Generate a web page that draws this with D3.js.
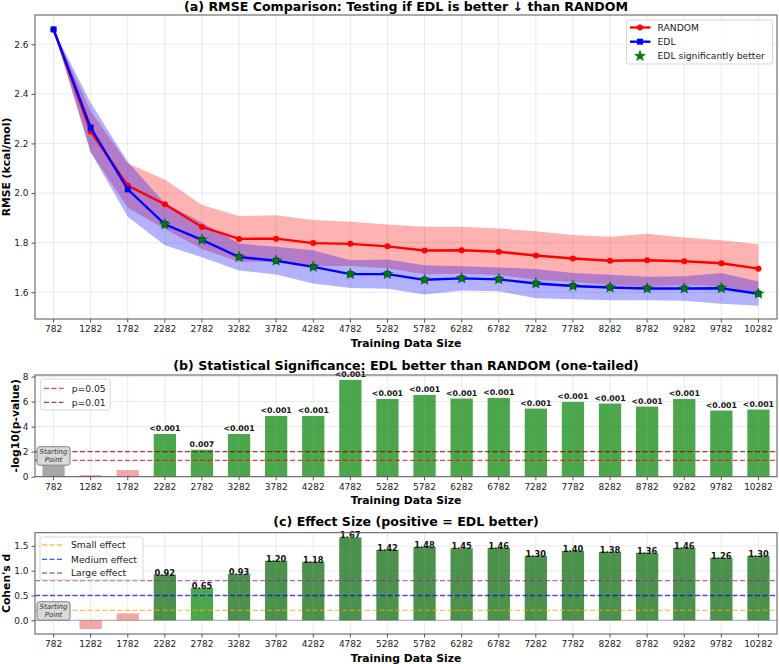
<!DOCTYPE html>
<html><head><meta charset="utf-8">
<script src="https://cdn.jsdelivr.net/npm/d3@7"></script>
<style>body{margin:0;background:#fff} svg text{font-family:"DejaVu Sans",sans-serif}</style>
</head><body><svg id="chart" width="779" height="664"></svg>
<script>
// ---------------- DATA ----------------
const sizes = [782,1282,1782,2282,2782,3282,3782,4282,4782,5282,5782,6282,6782,7282,7782,8282,8782,9282,9782,10282];
const randomMean = [2.66,2.248,2.030,1.955,1.863,1.815,1.816,1.798,1.795,1.785,1.768,1.769,1.763,1.748,1.736,1.727,1.729,1.725,1.717,1.695];
const randomStd  = [0.0,0.083,0.089,0.100,0.089,0.092,0.094,0.093,0.089,0.088,0.096,0.095,0.094,0.098,0.095,0.097,0.107,0.096,0.093,0.098];
const edlMean    = [2.66,2.264,2.015,1.874,1.811,1.742,1.727,1.702,1.673,1.673,1.650,1.656,1.652,1.635,1.625,1.619,1.615,1.615,1.616,1.594];
const edlStd     = [0.0,0.100,0.111,0.085,0.070,0.054,0.056,0.067,0.056,0.059,0.059,0.049,0.048,0.059,0.053,0.051,0.047,0.049,0.062,0.049];
const edlSignificant = [false,false,false,true,true,true,true,true,true,true,true,true,true,true,true,true,true,true,true,true];
const negLog10P  = [0.9,0.13,0.53,3.41,2.15,3.41,4.85,4.85,7.73,6.21,6.53,6.24,6.29,5.44,5.97,5.84,5.60,6.21,5.28,5.36];
const pLabels    = ["","","","<0.001","0.007","<0.001","<0.001","<0.001","<0.001","<0.001","<0.001","<0.001","<0.001","<0.001","<0.001","<0.001","<0.001","<0.001","<0.001","<0.001"];
const cohensD    = [0.0,-0.175,0.14,0.92,0.65,0.93,1.20,1.18,1.67,1.42,1.48,1.45,1.46,1.30,1.40,1.38,1.36,1.46,1.26,1.30];
const dLabels    = ["","","","0.92","0.65","0.93","1.20","1.18","1.67","1.42","1.48","1.45","1.46","1.30","1.40","1.38","1.36","1.46","1.26","1.30"];
const rmseTicks  = [1.6,1.8,2.0,2.2,2.4,2.6];
const pTicks     = [0,2,4,6,8];
const dTicks     = [0.0,0.5,1.0,1.5];
const pThresholds = [{label:"p=0.05", value:-Math.log10(0.05), color:"red"},{label:"p=0.01", value:2, color:"darkred"}];
const dThresholds = [{label:"Small effect", value:0.2, color:"orange"},{label:"Medium effect", value:0.5, color:"blue"},{label:"Large effect", value:0.8, color:"#a020a0"}];

// ---------------- LAYOUT ----------------
const svg = d3.select("#chart");
const L = 35, R = 777;
const panels = {
  a:{top:15, bottom:319, titleOff:3.6},
  b:{top:375, bottom:476.7, titleOff:5},
  c:{top:532.7, bottom:634, titleOff:6.5}
};
const x = d3.scaleBand().domain(sizes).range([L,R]).paddingInner(0.4).paddingOuter(0.2);
const cx = d => x(d) + x.bandwidth()/2;
const spine = "#555";

function frame(g, p, y, yTicks, fmt, title, ylabel, ylabX){
  g.append("g").selectAll("line").data(sizes).join("line")
    .attr("x1",cx).attr("x2",cx).attr("y1",p.top).attr("y2",p.bottom)
    .attr("stroke","#b0b0b0").attr("stroke-opacity",0.35).attr("stroke-width",0.8);
  g.append("g").selectAll("line").data(yTicks).join("line")
    .attr("x1",L).attr("x2",R).attr("y1",d=>y(d)).attr("y2",d=>y(d))
    .attr("stroke","#b0b0b0").attr("stroke-opacity",0.35).attr("stroke-width",0.8);
  g.append("text").attr("x",(L+R)/2).attr("y",p.top-p.titleOff).attr("text-anchor","middle")
    .attr("font-size",12.6).attr("font-weight","bold").text(title);
  g.append("text").attr("transform",`translate(${ylabX},${(p.top+p.bottom)/2}) rotate(-90)`)
    .attr("text-anchor","middle").attr("dy","0.35em").attr("font-size",10.8).attr("font-weight","bold").text(ylabel);
  g.append("text").attr("x",(L+R)/2).attr("y",p.bottom+27.5).attr("text-anchor","middle")
    .attr("font-size",10.8).attr("font-weight","bold").text("Training Data Size");
}
function axes(g, p, y, yTicks, fmt){
  const xa = g.append("g").attr("transform",`translate(0,${p.bottom})`)
    .call(d3.axisBottom(x).tickSize(3.5).tickSizeOuter(0).tickPadding(3));
  const ya = g.append("g").attr("transform",`translate(${L},0)`)
    .call(d3.axisLeft(y).tickValues(yTicks).tickFormat(fmt).tickSize(3.5).tickSizeOuter(0).tickPadding(3));
  [xa,ya].forEach(a=>{a.select(".domain").remove(); a.selectAll("line").attr("stroke",spine);
    a.selectAll("text").attr("font-size",9).attr("fill","#222").attr("font-family","DejaVu Sans");});
  g.append("rect").attr("x",L).attr("y",p.top).attr("width",R-L).attr("height",p.bottom-p.top)
    .attr("fill","none").attr("stroke",spine).attr("stroke-width",1);
}
function startBox(g, yTop){
  const bx = cx(sizes[0]);
  g.append("rect").attr("x",bx-16.5).attr("y",yTop).attr("width",33).attr("height",18.5).attr("rx",2.5)
    .attr("fill","#d9d9d9").attr("stroke","#666").attr("stroke-width",0.8);
  g.append("text").attr("x",bx).attr("y",yTop+7.6).attr("text-anchor","middle").attr("font-size",7)
    .attr("font-style","italic").attr("fill","#333").text("Starting");
  g.append("text").attr("x",bx).attr("y",yTop+15.6).attr("text-anchor","middle").attr("font-size",7)
    .attr("font-style","italic").attr("fill","#333").text("Point");
}
function legendBox(g, x0, y0, w, h){
  g.append("rect").attr("x",x0).attr("y",y0).attr("width",w).attr("height",h).attr("rx",2)
    .attr("fill","#fff").attr("fill-opacity",0.85).attr("stroke","#ccc").attr("stroke-width",0.8);
}

// ---------------- PANEL A ----------------
{
  const p = panels.a, g = svg.append("g");
  const y = d3.scaleLinear().domain([1.492,2.718]).range([p.bottom,p.top]);
  frame(g,p,y,rmseTicks,d3.format(".1f"),"(a) RMSE Comparison: Testing if EDL is better \u2193 than RANDOM","RMSE (kcal/mol)",6);
  const idx = d3.range(sizes.length);
  const area = (m,s) => d3.area().x(i=>cx(sizes[i])).y0(i=>y(m[i]-s[i])).y1(i=>y(m[i]+s[i]));
  g.append("path").datum(idx).attr("d",area(randomMean,randomStd)).attr("fill","red").attr("fill-opacity",0.3);
  g.append("path").datum(idx).attr("d",area(edlMean,edlStd)).attr("fill","blue").attr("fill-opacity",0.3);
  const line = m => d3.line().x(i=>cx(sizes[i])).y(i=>y(m[i]));
  g.append("path").datum(idx).attr("d",line(randomMean)).attr("fill","none").attr("stroke","red").attr("stroke-width",2.4);
  g.append("g").selectAll("circle").data(idx).join("circle").attr("cx",i=>cx(sizes[i])).attr("cy",i=>y(randomMean[i]))
    .attr("r",3).attr("fill","red");
  g.append("path").datum(idx).attr("d",line(edlMean)).attr("fill","none").attr("stroke","blue").attr("stroke-width",2.4);
  g.append("g").selectAll("rect").data(idx).join("rect").attr("x",i=>cx(sizes[i])-3).attr("y",i=>y(edlMean[i])-3)
    .attr("width",6).attr("height",6).attr("fill","blue");
  const star = d3.symbol(d3.symbolStar, 36);
  g.append("g").selectAll("path").data(idx.filter(i=>edlSignificant[i])).join("path")
    .attr("transform",i=>`translate(${cx(sizes[i])},${y(edlMean[i])})`).attr("d",star)
    .attr("fill","green").attr("stroke","darkgreen").attr("stroke-width",0.6);
  axes(g,p,y,rmseTicks,d3.format(".1f"));
  const lg = g.append("g");
  legendBox(lg,626.5,20,146,44);
  const rows = [27.5,41.7,56];
  lg.append("line").attr("x1",630).attr("x2",650.5).attr("y1",rows[0]).attr("y2",rows[0]).attr("stroke","red").attr("stroke-width",2.4);
  lg.append("circle").attr("cx",640).attr("cy",rows[0]).attr("r",3).attr("fill","red");
  lg.append("line").attr("x1",630).attr("x2",650.5).attr("y1",rows[1]).attr("y2",rows[1]).attr("stroke","blue").attr("stroke-width",2.4);
  lg.append("rect").attr("x",637).attr("y",rows[1]-3).attr("width",6).attr("height",6).attr("fill","blue");
  lg.append("path").attr("transform",`translate(640,${rows[2]})`).attr("d",star).attr("fill","green").attr("stroke","darkgreen").attr("stroke-width",0.6);
  ["RANDOM","EDL","EDL significantly better"].forEach((t,i)=>
    lg.append("text").attr("x",657.5).attr("y",rows[i]).attr("dy","0.35em").attr("font-size",9.2).attr("fill","#222").text(t));
}

// ---------------- PANEL B ----------------
{
  const p = panels.b, g = svg.append("g");
  const y = d3.scaleLinear().domain([0,8.12]).range([p.bottom,p.top]);
  frame(g,p,y,pTicks,d3.format("d"),"(b) Statistical Significance: EDL better than RANDOM (one-tailed)","-log10(p-value)",15);
  const col = (v,i) => i===0 ? "gray" : (v < -Math.log10(0.05) ? "lightcoral" : "green");
  g.append("g").selectAll("rect").data(negLog10P).join("rect")
    .attr("x",(v,i)=>x(sizes[i])).attr("width",x.bandwidth())
    .attr("y",v=>y(v)).attr("height",v=>y(0)-y(v))
    .attr("fill",(v,i)=>col(v,i)).attr("fill-opacity",0.7);
  g.append("g").selectAll("line").data(sizes).join("line")
    .attr("x1",cx).attr("x2",cx).attr("y1",p.top).attr("y2",p.bottom)
    .attr("stroke","#ffffff").attr("stroke-opacity",0.15).attr("stroke-width",0.8);
  pThresholds.forEach(t=>g.append("line").attr("x1",L).attr("x2",R).attr("y1",y(t.value)).attr("y2",y(t.value))
    .attr("stroke",t.color).attr("stroke-opacity",0.75).attr("stroke-width",1.3).attr("stroke-dasharray","5,2.5"));
  g.append("g").selectAll("text").data(pLabels).join("text")
    .attr("x",(v,i)=>cx(sizes[i])).attr("y",(v,i)=>y(negLog10P[i])-3).attr("text-anchor","middle")
    .attr("font-size",7.8).attr("font-weight","bold").attr("fill","#111").text(d=>d);
  startBox(g,446.7);
  axes(g,p,y,pTicks,d3.format("d"));
  const lg = g.append("g");
  legendBox(lg,40.7,379,69.5,31);
  const rows=[388.3,402.3];
  pThresholds.forEach((t,i)=>{
    lg.append("line").attr("x1",44).attr("x2",63.5).attr("y1",rows[i]).attr("y2",rows[i]).attr("stroke",t.color)
      .attr("stroke-opacity",0.75).attr("stroke-width",1.3).attr("stroke-dasharray","5,2.5");
    lg.append("text").attr("x",71.7).attr("y",rows[i]).attr("dy","0.35em").attr("font-size",9.2).attr("fill","#222").text(t.label);
  });
}

// ---------------- PANEL C ----------------
{
  const p = panels.c, g = svg.append("g");
  const y = d3.scaleLinear().domain([-0.276,1.766]).range([p.bottom,p.top]);
  frame(g,p,y,dTicks,d3.format(".1f"),"(c) Effect Size (positive = EDL better)","Cohen's d",6);
  const col = (v,i) => i===0 ? "gray" : (v < 0.2 ? "lightcoral" : (v < 0.8 ? "green" : "darkgreen"));
  g.append("g").selectAll("rect").data(cohensD).join("rect")
    .attr("x",(v,i)=>x(sizes[i])).attr("width",x.bandwidth())
    .attr("y",v=>y(Math.max(0,v))).attr("height",v=>Math.abs(y(v)-y(0)))
    .attr("fill",(v,i)=>col(v,i)).attr("fill-opacity",0.7);
  g.append("g").selectAll("line").data(sizes).join("line")
    .attr("x1",cx).attr("x2",cx).attr("y1",p.top).attr("y2",p.bottom)
    .attr("stroke","#ffffff").attr("stroke-opacity",0.15).attr("stroke-width",0.8);
  dThresholds.forEach(t=>g.append("line").attr("x1",L).attr("x2",R).attr("y1",y(t.value)).attr("y2",y(t.value))
    .attr("stroke",t.color).attr("stroke-opacity",0.7).attr("stroke-width",1.3).attr("stroke-dasharray","5,2.5"));
  g.append("line").attr("x1",L).attr("x2",R).attr("y1",y(0)).attr("y2",y(0)).attr("stroke","#333").attr("stroke-width",0.6).attr("stroke-opacity",0.6);
  g.append("g").selectAll("text").data(dLabels).join("text")
    .attr("x",(v,i)=>cx(sizes[i])).attr("y",(v,i)=>y(cohensD[i])+1).attr("text-anchor","middle")
    .attr("font-size",8.3).attr("font-weight","bold").attr("fill","#111").text(d=>d);
  startBox(g,601.7);
  axes(g,p,y,dTicks,d3.format(".1f"));
  const lg = g.append("g");
  legendBox(lg,40,537,103,43);
  const rows=[545,559.3,573];
  dThresholds.forEach((t,i)=>{
    lg.append("line").attr("x1",42).attr("x2",63.5).attr("y1",rows[i]).attr("y2",rows[i]).attr("stroke",t.color)
      .attr("stroke-opacity",0.7).attr("stroke-width",1.3).attr("stroke-dasharray","5,2.5");
    lg.append("text").attr("x",71).attr("y",rows[i]).attr("dy","0.35em").attr("font-size",9.2).attr("fill","#222").text(t.label);
  });
}
</script></body></html>
